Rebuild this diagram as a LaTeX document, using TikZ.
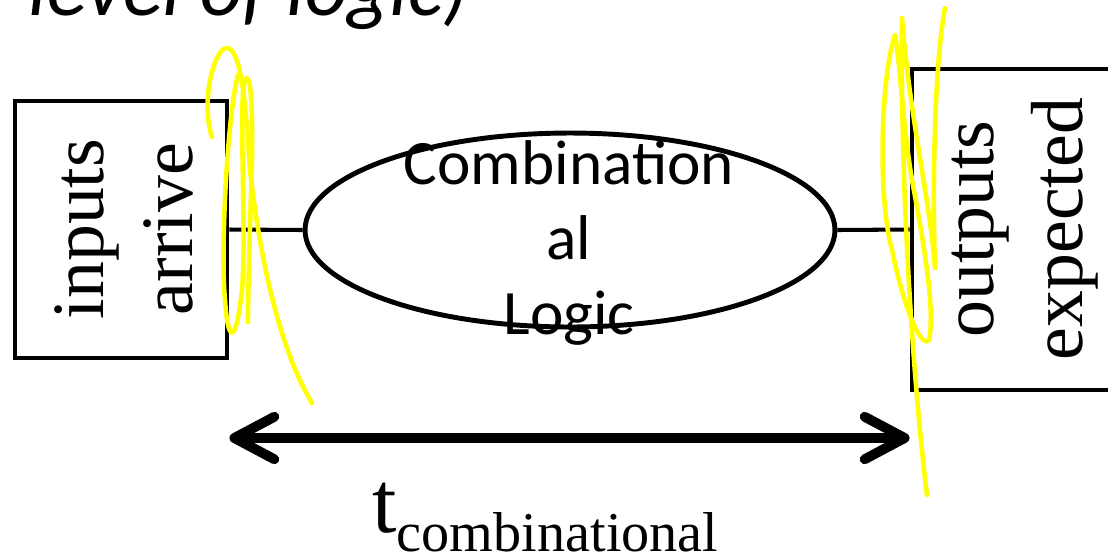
\documentclass[tikz,border=0pt]{standalone}
\usepackage{fontspec}
\setmainfont{Liberation Serif}
\newfontfamily\calibri{Carlito}
\usetikzlibrary{shapes.geometric,arrows.meta,positioning,calc}
\definecolor{marker}{HTML}{FFFF00}

\begin{document}
\begin{tikzpicture}[x=0.02cm, y=-0.02cm,
  iobox/.style={draw, line width=2.8pt, inner sep=0pt},
  iotext/.style={rotate=90, align=center, inner sep=0pt, font=\fontsize{42}{51}\selectfont},
  logic/.style={draw, ellipse, line width=2.8pt, inner sep=0pt, minimum width=10.6cm, minimum height=3.88cm},
  logictext/.style={align=center, inner sep=0pt, font=\calibri\fontsize{36}{42.7}\selectfont},
  wire/.style={line width=2.3pt},
  timearrow/.style={line width=5.6pt, {Straight Barb[length=0.8cm,width=0.85cm,round]}-{Straight Barb[length=0.8cm,width=0.85cm,round]}},
  scribble/.style={draw=marker, line width=2.6pt, line cap=round, line join=round}
]
\useasboundingbox (0,0) rectangle (1108,559);
\node[anchor=base west, inner sep=0pt, font=\calibri\itshape\fontsize{47}{56}\selectfont] (lvl) at (28,15) {level of logic)};

\node[iobox, minimum width=4.24cm, minimum height=5.14cm] (inbox) at (121,229.5) {};
\node[iotext] (intext) at (124,229) {inputs\\arrive};
\node[iobox, minimum width=4.52cm, minimum height=6.42cm] (outbox) at (1025,229.5) {};
\node[iotext] (outtext) at (1025,229) {outputs\\expected};

\node[logic] (logic) at (570,230) {};
\node[logictext] (logiclabel) at (569,243) {Combination\\al\\Logic};
\draw[wire] (inbox.east) -- (logic.west);
\draw[wire] (logic.east) -- (outbox.west);

% time span
\coordinate (tstart) at (inbox.east |- 0,438);
\coordinate (tend) at (outbox.west |- 0,438);
\draw[timearrow] (tstart) -- (tend);
\node[anchor=base west, inner sep=0pt] (tcomb) at (372,532) {{\fontsize{50}{60}\selectfont t}\raisebox{-0.38cm}{\fontsize{32}{38}\selectfont combinational}};

% highlighter marks
\draw[scribble] (212,137) .. controls (200,100) and (215,45) .. (228,48) .. controls (242,52) and (246,110) .. (250,170) .. controls (260,260) and (280,350) .. (312,403);
\draw[scribble] (238,75) .. controls (228,110) and (220,250) .. (225,300) .. controls (228,345) and (236,345) .. (242,290) .. controls (247,230) and (238,100) .. (245,80) .. controls (250,70) and (253,100) .. (252,160) .. controls (250,230) and (248,290) .. (248,322);
\draw[scribble] (927,495) .. controls (915,400) and (900,200) .. (902,18) .. controls (910,120) and (930,200) .. (935,268) .. controls (932,180) and (935,60) .. (945,8);
\draw[scribble] (895,35) .. controls (880,80) and (878,200) .. (892,250) .. controls (902,300) and (920,350) .. (929,340) .. controls (935,310) and (925,250) .. (912,180) .. controls (902,120) and (900,60) .. (895,35);
\end{tikzpicture}
\end{document}
